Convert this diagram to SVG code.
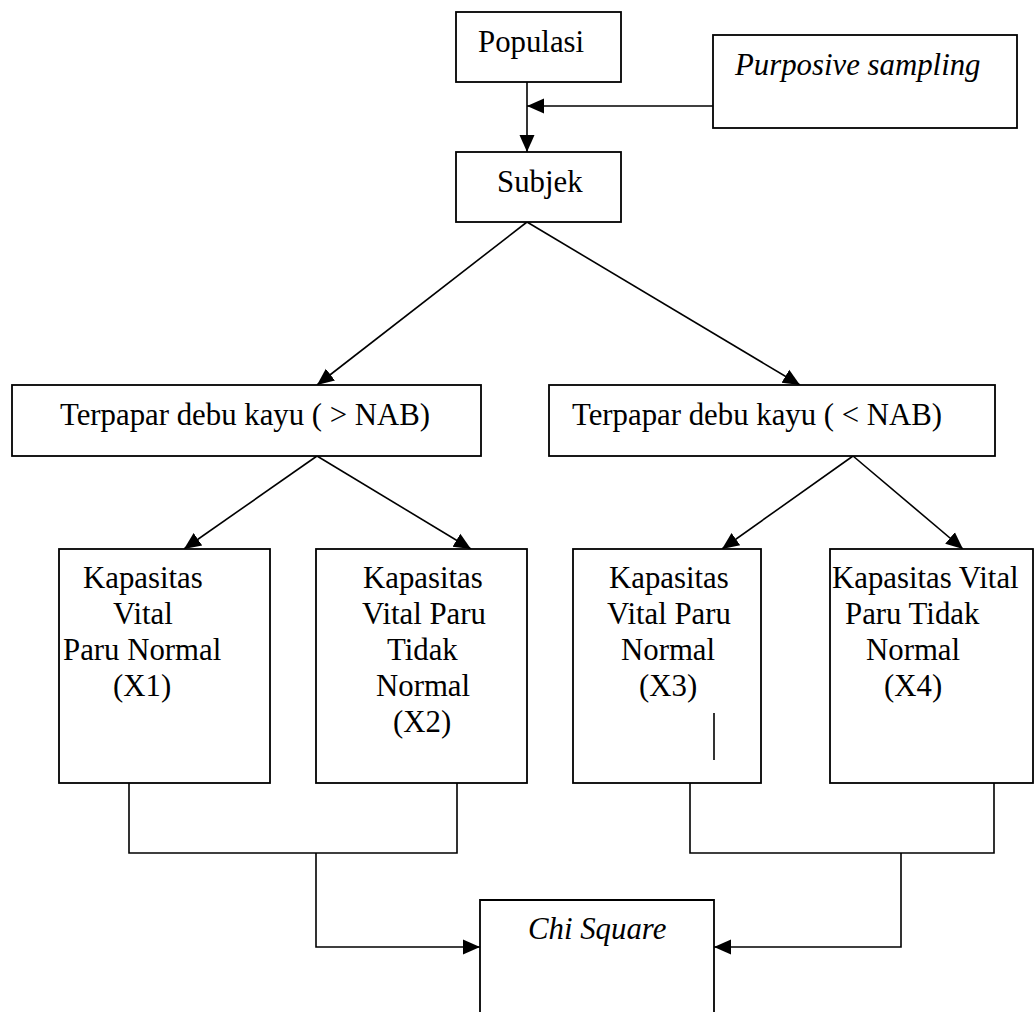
<svg xmlns="http://www.w3.org/2000/svg" width="1036" height="1012" viewBox="0 0 1036 1012">
<defs>
<style>
.box{fill:#fff;stroke:#000;stroke-width:1.8}
.ln{fill:none;stroke:#000;stroke-width:1.6}
.t{font-size:30.8px;fill:#000}
.i{font-style:italic}
</style>
<marker id="ah" markerUnits="userSpaceOnUse" markerWidth="18" markerHeight="18" viewBox="0 0 18 18" refX="17" refY="9" orient="auto">
<path d="M0,1.5 L17,9 L0,16.5 Z" fill="#000"/>
</marker>
</defs>
<rect width="1036" height="1012" fill="#fff"/>
<g id="connectors">
<path class="ln" d="M527,82 V152" marker-end="url(#ah)"/>
<path class="ln" d="M713,106 H527" marker-end="url(#ah)"/>
<path class="ln" d="M527,222 L317,385" marker-end="url(#ah)"/>
<path class="ln" d="M527,222 L800,385" marker-end="url(#ah)"/>
<path class="ln" d="M317,456 L184,549" marker-end="url(#ah)"/>
<path class="ln" d="M317,456 L471,549" marker-end="url(#ah)"/>
<path class="ln" d="M853,456 L722,549" marker-end="url(#ah)"/>
<path class="ln" d="M853,456 L963,549" marker-end="url(#ah)"/>
<path class="ln" d="M129,783 V853 H457 V783"/>
<path class="ln" d="M690,783 V853 H994 V783"/>
<path class="ln" d="M316,853 V947 H480" marker-end="url(#ah)"/>
<path class="ln" d="M901,853 V947 H714" marker-end="url(#ah)"/>
</g>
<g font-family="Liberation Serif, Times New Roman, DejaVu Serif, serif">
<g id="populasi">
<rect class="box" x="456" y="12" width="165" height="70"/>
<text class="t" x="478" y="52">Populasi</text>
</g>
<g id="purposive">
<rect class="box" x="713" y="35" width="304" height="93"/>
<text class="t i" x="735" y="75">Purposive sampling</text>
</g>
<g id="subjek">
<rect class="box" x="456" y="152" width="165" height="70"/>
<text class="t" x="497" y="192">Subjek</text>
</g>
<g id="terpapar-atas">
<rect class="box" x="12" y="385" width="469" height="71"/>
<text class="t" x="60" y="425">Terpapar debu kayu ( &gt; NAB)</text>
</g>
<g id="terpapar-bawah">
<rect class="box" x="549" y="385" width="446" height="71"/>
<text class="t" x="572" y="425">Terpapar debu kayu ( &lt; NAB)</text>
</g>
<g id="x1">
<rect class="box" x="59" y="549" width="211" height="234"/>
<text class="t"><tspan x="83" y="588">Kapasitas</tspan><tspan x="113" y="624">Vital</tspan><tspan x="63" y="660">Paru Normal</tspan><tspan x="113" y="696">(X1)</tspan></text>
</g>
<g id="x2">
<rect class="box" x="316" y="549" width="211" height="234"/>
<text class="t"><tspan x="363" y="588">Kapasitas</tspan><tspan x="362" y="624">Vital Paru</tspan><tspan x="387" y="660">Tidak</tspan><tspan x="376" y="696">Normal</tspan><tspan x="393" y="732">(X2)</tspan></text>
</g>
<g id="x3">
<rect class="box" x="573" y="549" width="188" height="234"/>
<text class="t"><tspan x="609" y="588">Kapasitas</tspan><tspan x="607" y="624">Vital Paru</tspan><tspan x="621" y="660">Normal</tspan><tspan x="639" y="696">(X3)</tspan></text>
<line class="ln" x1="714" y1="713" x2="714" y2="760"/>
</g>
<g id="x4">
<rect class="box" x="830" y="549" width="203" height="234"/>
<text class="t"><tspan x="832" y="588">Kapasitas Vital</tspan><tspan x="845" y="624">Paru Tidak</tspan><tspan x="866" y="660">Normal</tspan><tspan x="884" y="696">(X4)</tspan></text>
</g>
<g id="chi-square">
<path class="box" d="M480,1013 V900 H714 V1013"/>
<text class="t i" x="528" y="939">Chi Square</text>
</g>
</g>
</svg>
